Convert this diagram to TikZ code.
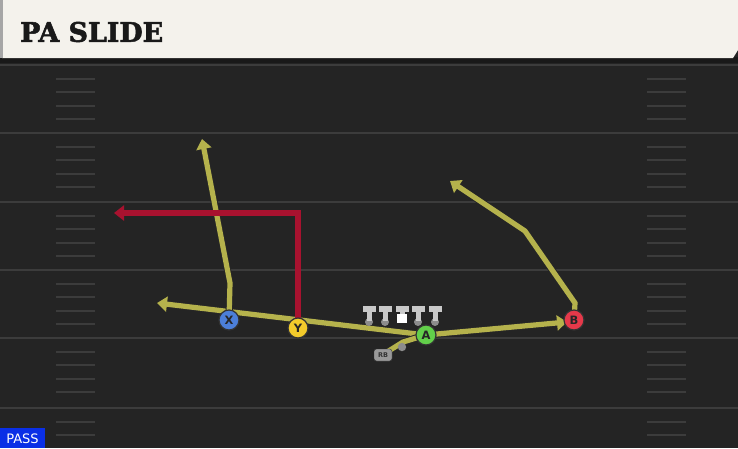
\documentclass[tikz,border=0pt]{standalone}
\usepackage{fontspec}
\setmainfont{DejaVu Sans}
\newfontfamily\titlefont{DejaVu Serif}[BoldFeatures={FakeBold=2}]
\usetikzlibrary{arrows.meta}
\definecolor{field}{HTML}{242424}
\definecolor{yardc}{HTML}{3C3C3C}
\definecolor{hashc}{HTML}{3C3C3C}
\definecolor{cream}{HTML}{F4F2EC}
\definecolor{routey}{HTML}{B5B24C}
\definecolor{router}{HTML}{A8122F}
\definecolor{pblue}{HTML}{4C7FD9}
\definecolor{pyellow}{HTML}{F3CB2B}
\definecolor{pgreen}{HTML}{62CF4A}
\definecolor{pred}{HTML}{E5394A}
\definecolor{passblue}{HTML}{0A2FE6}
\definecolor{linegray}{HTML}{C9C9C9}
\definecolor{dotgray}{HTML}{8C8C8C}
\tikzset{
  yroute/.style={line width=5.2pt, color=routey, line join=miter,
    -{Triangle[length=10pt,width=15pt]},
    preaction={draw=black!85, line width=7.2pt, -{Triangle[length=11pt,width=17pt]}}},
  yplain/.style={line width=5.2pt, color=routey, line join=miter,
    preaction={draw=black!85, line width=7.2pt}},
  rroute/.style={line width=5.4pt, color=router, line join=miter,
    -{Triangle[length=10pt,width=15pt]}},
  player/.style={circle, draw=black!80, line width=1.2pt, minimum size=20pt, inner sep=0pt,
    font=\bfseries\fontsize{11.5}{11.5}\selectfont, text=black!85},
  yard/.style={draw=yardc, line width=2.4pt},
  hashm/.style={draw=hashc, line width=2pt},
}
\begin{document}
\begin{tikzpicture}[x=1pt,y=-1pt]
\useasboundingbox (0,0) rectangle (738,448);
\fill[field] (0,0) rectangle (738,448);
% yard lines
\foreach \yy in {65,133,202,270,338,408} {\draw[yard] (0,\yy) -- (738,\yy);}
% hash marks
\foreach \base in {65,133,202,270,338} {
  \foreach \k in {1,2,3,4} {
    \draw[hashm] (56,{\base+13.6*\k}) -- (95,{\base+13.6*\k});
    \draw[hashm] (647,{\base+13.6*\k}) -- (686,{\base+13.6*\k});
  }
}
\foreach \k in {1,2} {
  \draw[hashm] (56,{408+13.6*\k}) -- (95,{408+13.6*\k});
  \draw[hashm] (647,{408+13.6*\k}) -- (686,{408+13.6*\k});
}
% header
\fill[black!90] (0,57) rectangle (738,63);
\fill[cream] (2,0) -- (738,0) -- (738,50) -- (733,58) -- (2,58) -- cycle;
\fill[black!35] (0,0) rectangle (3,58);
\node[anchor=west, inner sep=0pt, text=black!90] (title) at (20,32)
  {\resizebox{143pt}{20pt}{\titlefont\bfseries PA SLIDE}};
% coordinates
\coordinate (pX) at (229,320);
\coordinate (pY) at (298,328);
\coordinate (pA) at (426,335);
\coordinate (pB) at (574,320);
\coordinate (xbend) at (230,283);
\coordinate (xtip) at (202,139);
\coordinate (ycorner) at (298,213);
\coordinate (ytip) at (114,213);
\coordinate (ltip) at (157,303);
\coordinate (abtip) at (567,322);
\coordinate (bstart) at (575,303);
\coordinate (bbend) at (525,231);
\coordinate (btip) at (450,181);
\coordinate (rbstart) at (387,352);
\coordinate (rbbend) at (403,342);
% routes
\draw[yroute] (pA) -- (ltip);
\draw[yroute] (pX) -- (xbend) -- (xtip);
\draw[rroute] (pY) -- (ycorner) -- (ytip);
\draw[yroute] (pA) -- (abtip);
\draw[yroute] (pB) -- (bstart) -- (bbend) -- (btip);
\draw[yplain] (rbstart) -- (rbbend) -- (pA);
% linemen
\foreach \lx/\nm in {369/l1,385/l2,418/l4,435/l5} {
  \fill[dotgray] (\lx,322) circle (4pt);
  \fill[linegray] (\lx-6.5,306) rectangle (\lx+6.5,311.5);
  \fill[linegray] (\lx-2.5,311) rectangle (\lx+2.5,321);
  \coordinate (\nm) at (\lx,315);
}
\fill[linegray] (395.5,306) rectangle (408.5,311.5);
\fill[linegray] (399.5,311) rectangle (404.5,315);
\fill[white] (397,314) rectangle (407,323);
\coordinate (l3) at (402,315);
% RB
\fill[dotgray] (402,347) circle (4.2pt);
\node[draw=black!80, fill=black!40, rounded corners=2.5pt, minimum width=18pt, minimum height=12pt,
  inner sep=0pt, font=\bfseries\fontsize{6.5}{6.5}\selectfont, text=black!80] (RB) at (383,355) {RB};
% players
\node[player, fill=pblue] (X) at (pX) {X};
\node[player, fill=pyellow] (Y) at (pY) {Y};
\node[player, fill=pgreen] (A) at (pA) {A};
\node[player, fill=pred] (B) at (pB) {B};
% pass label
\fill[passblue] (0,428) rectangle (45,448);
\node[text=white, font=\fontsize{13}{13}\selectfont, inner sep=0pt] (pass) at (22.5,439) {PASS};
\end{tikzpicture}
\end{document}
